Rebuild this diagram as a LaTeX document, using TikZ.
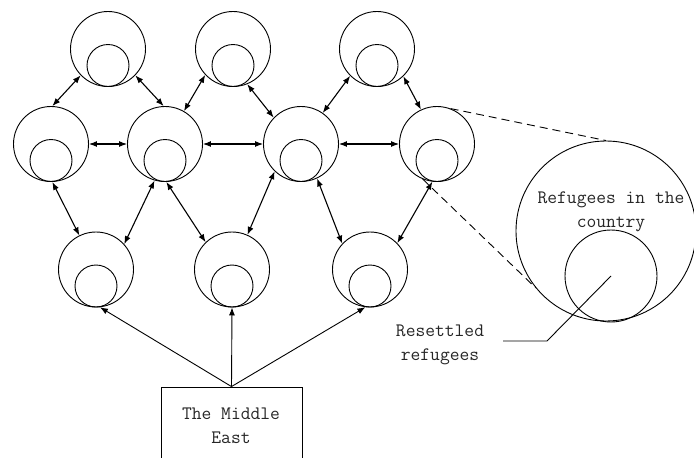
\documentclass[tikz,border=0pt]{standalone}
\usetikzlibrary{arrows.meta}
\begin{document}
\begin{tikzpicture}[x=1pt,y=-1pt,
  outer/.style={circle,draw,line width=0.9pt,minimum size=75pt,inner sep=0pt},
  inner/.style={circle,draw,line width=0.9pt,minimum size=42pt,inner sep=0pt},
  link/.style={line width=1.1pt,{Latex[length=8pt,width=6pt]}-{Latex[length=8pt,width=6pt]}},
  feed/.style={line width=0.9pt,-{Latex[length=8pt,width=6pt]}},
  lbl/.style={font=\ttfamily\fontsize{19}{24}\selectfont,text=black!85,align=center,inner sep=0pt},
  zoomline/.style={line width=0.9pt,dash pattern=on 8pt off 5pt}]
\useasboundingbox (0,0) rectangle (694,458);
\clip (0,0) rectangle (694,458);
% unit nodes
\foreach \n/\x/\y in {t1/108/49,t2/233/49,t3/377/49,m1/51/144,m2/165/144,m3/301/144,m4/437/144,b1/96/269.5,b2/232/269.5,b3/370/269.5}{
  \node[outer] (\n) at (\x,\y) {};
  \node[inner] (\n i) at (\x,\y+16.5) {};
}
% links
\draw[link] (t1.-136) -- (m1.88);
\draw[link] (t1.-44) -- (m2.92);
\draw[link] (t2.-137) -- (m2.60);
\draw[link] (t2.-68) -- (m3.136);
\draw[link] (t3.-135) -- (m3.55);
\draw[link] (t3.-46) -- (m4.115);
\draw[link] (m1.0) -- (m2.180);
\draw[link] (m2.0) -- (m3.180);
\draw[link] (m3.0) -- (m4.180);
\draw[link] (m1.-88) -- (b1.116);
\draw[link] (m2.-106) -- (b1.42);
\draw[link] (m2.-88) -- (b2.134);
\draw[link] (m3.-134) -- (b2.66);
\draw[link] (m3.-65) -- (b3.137);
\draw[link] (m4.-97) -- (b3.44);
% Middle East box
\node[draw,line width=0.9pt,minimum width=141pt,minimum height=80pt,inner sep=0pt] (me) at (231.5,427) {};
\node[lbl] (metext) at (231,425.5) {The Middle\\East};
\draw[feed] (me.north) -- (b1.-84);
\draw[feed] (me.north) -- (b2.-90);
\draw[feed] (me.north) -- (b3.-97);
% enlarged unit
\node[circle,draw,line width=0.9pt,minimum size=180pt,inner sep=0pt] (big) at (606,231) {};
\node[circle,draw,line width=0.9pt,minimum size=92pt,inner sep=0pt] (bigi) at (611,276) {};
\draw[zoomline] (m4.69) -- (big.90);
\draw[zoomline] (m4.-112) -- (big.-141);
\node[lbl] (reftext) at (611,212) {Refugees in the\\country};
% resettled label
\node[lbl] (restext) at (440,345) {Resettled\\refugees};
\coordinate (bend) at (547,341);
\coordinate (lend) at (503,341);
\draw[line width=0.9pt] (bigi.center) -- (bend) -- (lend);
\end{tikzpicture}
\end{document}
